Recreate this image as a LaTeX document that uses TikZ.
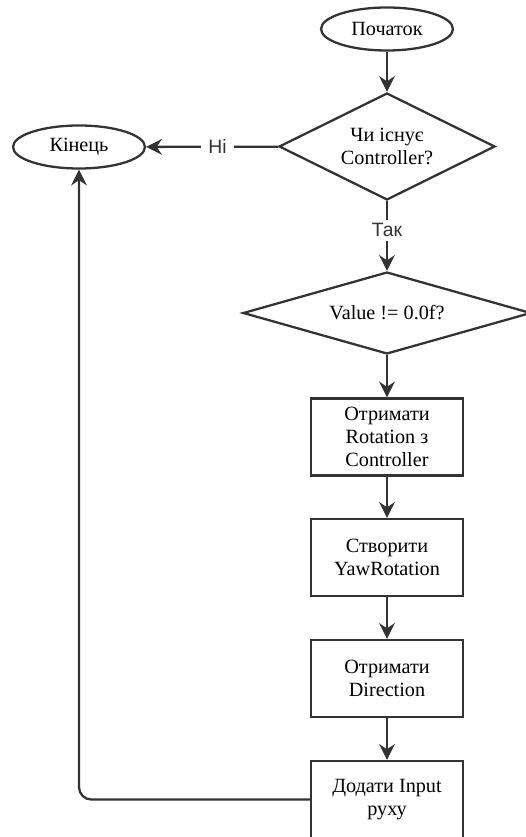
\documentclass[tikz,border=0pt]{standalone}
\usepackage{fontspec}
\setmainfont{Liberation Serif}
\setsansfont{Liberation Sans}
\usetikzlibrary{shapes.geometric,arrows.meta}
\definecolor{linegray}{HTML}{333333}
\tikzset{
	terminal/.style={ellipse, draw=linegray, line width=1.3pt, minimum width=2.64cm, minimum height=0.86cm, inner sep=0pt, font=\fontsize{11.5pt}{13pt}\selectfont},
	decision/.style={diamond, draw=linegray, line width=1.3pt, inner sep=0pt, aspect=2, align=center, font=\fontsize{11.5pt}{13pt}\selectfont},
	process/.style={rectangle, draw=linegray, line width=1.3pt, minimum width=3.04cm, minimum height=1.54cm, inner sep=0pt, align=center, font=\fontsize{11.5pt}{13pt}\selectfont},
	flow/.style={draw=linegray, line width=1.3pt, -{Stealth[length=9pt, width=9pt, inset=3pt]}},
	answer/.style={fill=white, inner xsep=4pt, inner ysep=2pt, font=\sffamily\fontsize{11pt}{12pt}\selectfont, text=linegray}
}
\begin{document}
\begin{tikzpicture}[x=0.02cm, y=-0.02cm]
			\useasboundingbox (0, 0) rectangle (526, 837);

			\node[terminal]									(start)	at (387, 29)	{Початок};
			\node[decision, minimum width=4.32cm, minimum height=2.14cm]	(exists)	at (387, 146.5)	{Чи існує\\Controller?};
			\node[terminal]									(stop)	at (79, 147)	{Кінець};
			\node[decision, minimum width=5.76cm, minimum height=1.64cm]	(value)	at (387, 313)	{Value != 0.0f?};
			\node[process]									(rot)	at (387, 437)	{Отримати\\Rotation з\\Controller};
			\node[process]									(yaw)	at (387, 557.5)	{Створити\\YawRotation};
			\node[process]									(dir)	at (387, 678.5)	{Отримати\\Direction};
			\node[process]									(add)	at (387, 799.5)	{Додати Input\\руху};

			\draw[flow]	(start) to (exists);
			\draw[flow]	(exists) to node[answer, pos=0.46]{Hi} (stop);
			\draw[flow]	(exists) to node[answer, pos=0.42]{Так} (value);
			\draw[flow]	(value) to (rot);
			\draw[flow]	(rot) to (yaw);
			\draw[flow]	(yaw) to (dir);
			\draw[flow]	(dir) to (add);
			\draw[flow, rounded corners=7pt]	(add.west) -| (stop.south);
		\end{tikzpicture}
\end{document}
